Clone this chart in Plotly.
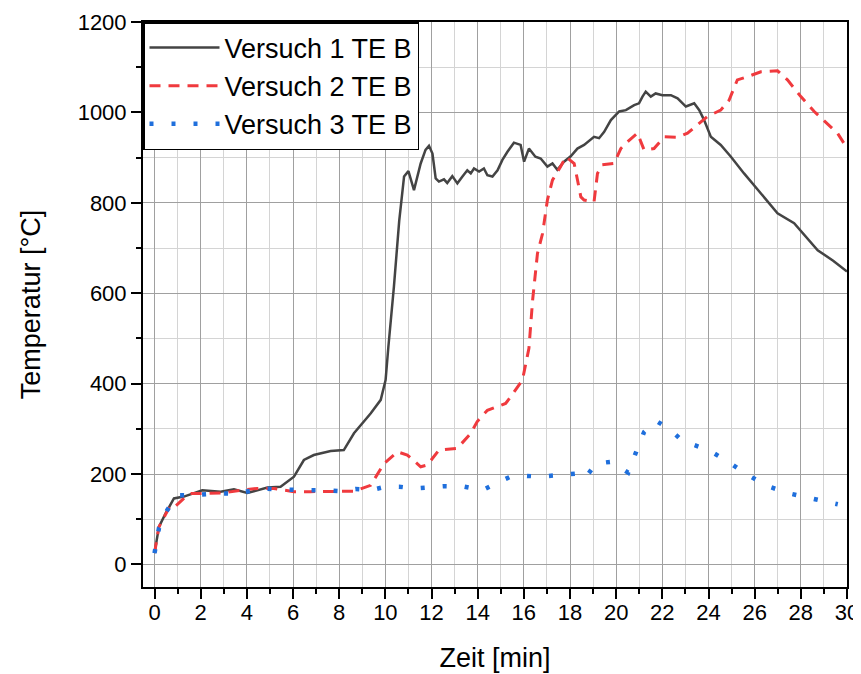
import plotly.graph_objects as go

# Versuch 1 TE B
t1 = [0, 0.19, 0.48, 0.84, 1.27, 2.07, 2.86, 3.44, 4.02, 4.89, 5.46, 6.04, 6.47, 6.9, 7.63, 8.2, 8.64,
      9.36, 9.8, 10.01, 10.13, 10.37, 10.6, 10.81, 11.0, 11.24, 11.53, 11.74, 11.89, 12.04, 12.18,
      12.32, 12.54, 12.68, 12.9, 13.12, 13.34, 13.55, 13.7, 13.84, 14.06, 14.27, 14.42, 14.64, 14.86,
      15.07, 15.29, 15.57, 15.86, 16.01, 16.22, 16.5, 16.73, 17.02, 17.24, 17.45, 17.74, 18.03, 18.32,
      18.61, 19.04, 19.26, 19.48, 19.77, 20.13, 20.42, 20.78, 20.99, 21.14, 21.28, 21.5, 21.71, 22.0,
      22.37, 22.66, 23.02, 23.38, 23.6, 23.81, 24.1, 24.53, 24.97, 25.54, 26.3, 26.99, 27.71, 28.73,
      29.4, 30]
T1 = [25, 83, 113, 146, 150, 164, 161, 166, 158, 170, 172, 194, 231, 242, 251, 253, 290,
      334, 364, 408, 481, 614, 760, 858, 870, 828, 887, 917, 926, 909, 854,
      847, 852, 844, 859, 843, 858, 872, 865, 876, 869, 876, 861, 858, 872,
      895, 913, 933, 928, 891, 920, 902, 898, 880, 887, 873, 891, 903, 920,
      928, 946, 943, 957, 983, 1002, 1005, 1016, 1020, 1035, 1046, 1035, 1042, 1038,
      1038, 1031, 1013, 1020, 1005, 983, 946, 928, 902, 865, 820, 777, 755, 695,
      672, 648]

# Versuch 2 TE B
t2 = [0, 0.19, 0.69, 0.91, 1.27, 1.56, 2.28, 2.96, 3.73, 4.45, 5.17, 6.04, 6.75, 7.63, 8.64, 9.36,
      9.94, 10.52, 10.95, 11.53, 11.82, 12.32, 13.12, 13.7, 13.98, 14.42, 14.64, 15.21, 15.43, 15.94,
      16.22, 16.38, 16.59, 16.81, 17.02, 17.24, 17.59, 17.82, 18.18, 18.47, 18.61, 19.04, 19.19, 19.4,
      19.91, 20.2, 20.49, 20.92, 21.21, 21.64, 22.08, 22.66, 23.09, 23.51, 23.95, 24.53, 24.89, 25.25,
      25.69, 26.27, 26.99, 27.42, 28.0, 28.58, 29.15, 29.59, 30]
T2 = [25, 83, 131, 129, 146, 157, 157, 158, 164, 168, 168, 161, 161, 161, 162, 175,
      223, 249, 242, 216, 220, 253, 257, 290, 316, 341, 345, 356, 371, 408,
      478, 585, 688, 732, 806, 850, 880, 902, 887, 813, 806, 802, 865, 884,
      887, 920, 935, 954, 917, 920, 946, 945, 954, 972, 991, 1005, 1027, 1072,
      1079, 1090, 1092, 1072, 1035, 1002, 976, 954, 921]

# Versuch 3 TE B
t3 = [0, 0.19, 0.55, 0.98, 1.56, 2.07, 2.86, 3.58, 4.16, 4.74, 5.32, 5.97, 6.69, 7.41, 8.06, 8.71,
      9.36, 10.01, 10.59, 11.24, 11.96, 12.54, 13.41, 14.2, 14.86, 15.51, 16.08, 16.73, 17.6, 18.25,
      18.64, 19.12, 19.77, 20.52, 20.85, 21.21, 21.72, 22.37, 22.91, 23.38, 24.07, 24.79, 25.66, 26.56,
      27.5, 28.36, 29.37, 29.6]
T3 = [25, 80, 120, 153, 153, 155, 157, 157, 162, 168, 166, 164, 164, 164, 162, 167,
      164, 172, 172, 168, 172, 173, 172, 164, 181, 196, 196, 194, 198, 201,
      190, 223, 227, 203, 247, 293, 318, 297, 271, 264, 251, 229, 199, 173,
      157, 147, 136, 133]

FONT = "Arial, Liberation Sans, sans-serif"

fig = go.Figure()
fig.add_trace(go.Scatter(x=t1, y=T1, mode="lines", name="Versuch 1 TE B",
                         line=dict(color="#444444", width=2.5)))
fig.add_trace(go.Scatter(x=t2, y=T2, mode="lines", name="Versuch 2 TE B",
                         line=dict(color="#f03a3e", width=3, dash="11px,8px")))
fig.add_trace(go.Scatter(x=t3, y=T3, mode="lines", name="Versuch 3 TE B",
                         line=dict(color="#1f6fdc", width=4.5, dash="4px,18px")))

axis_common = dict(showline=True, mirror=True, linecolor="black", linewidth=2,
                   ticks="outside", ticklen=10, tickwidth=2, tickcolor="black",
                   showgrid=True, gridcolor="#a0a0a0", gridwidth=1, zeroline=False,
                   automargin=False,
                   tickfont=dict(family=FONT, size=22, color="black"))

fig.update_xaxes(range=[-0.5, 30], dtick=2, tick0=0, ticklabelstandoff=-5,
                 title=dict(text="Zeit [min]", font=dict(family=FONT, size=27, color="black"), standoff=24),
                 minor=dict(dtick=1, ticks="outside", ticklen=5, tickwidth=2, tickcolor="black",
                            showgrid=True, gridcolor="#d4d4d4", gridwidth=1),
                 **axis_common)
fig.update_yaxes(range=[-50, 1200], dtick=200, tick0=0,
                 title=dict(text="Temperatur [°C]", font=dict(family=FONT, size=27, color="black"), standoff=29),
                 minor=dict(dtick=100, ticks="outside", ticklen=5, tickwidth=2, tickcolor="black",
                            showgrid=True, gridcolor="#d4d4d4", gridwidth=1),
                 **axis_common)

# page body has an 8px margin, so the figure is a bit smaller than the window
fig.update_layout(
    width=853, height=666,
    margin=dict(l=135, r=14, t=14, b=87),
    plot_bgcolor="white", paper_bgcolor="white",
    font=dict(family=FONT, color="black"),
    legend=dict(x=0, y=1, xanchor="left", yanchor="top",
                bgcolor="white", bordercolor="black", borderwidth=1.5,
                font=dict(family=FONT, size=27, color="black"),
                itemwidth=70, tracegroupgap=0),
)

fig.write_html("out.html")
